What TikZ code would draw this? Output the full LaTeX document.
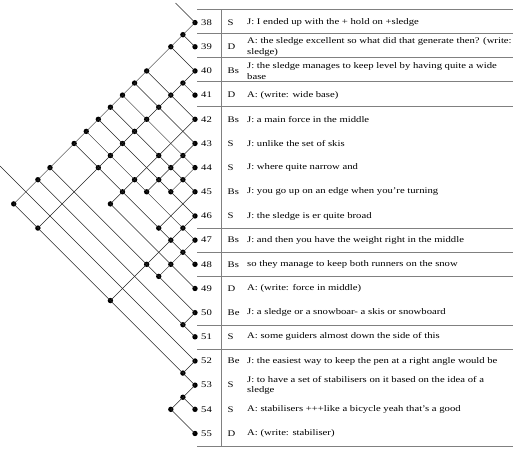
\documentclass[tikz,border=0pt]{standalone}
\usepackage{fontspec}
\setmainfont{Liberation Serif}[FakeStretch=1.24]
\begin{document}
\begin{tikzpicture}[x=1pt,y=-1pt,
  dot/.style={circle,fill=black,inner sep=0pt,minimum size=5.4pt},
  link/.style={draw=black!85,line width=0.5pt},
  rule/.style={draw=black!50,line width=0.5pt},
  lab/.style={anchor=west,inner sep=0pt,align=left,font=\fontsize{8.6}{10.5}\selectfont}]
\useasboundingbox (0,0) rectangle (513,451);
% moves
\foreach \i in {38,...,55} {
  \pgfmathsetmacro\yy{22.6+(\i-38)*24.17}
  \node[dot] (m\i) at (195,\yy) {};
}
% links
\foreach \i/\j in {38/39,38/40,38/42,38/43,38/44,38/45,38/46,38/47,38/48,38/50,38/51,38/53,
  40/41,40/42,40/43,40/44,40/45,40/46,40/47,40/48,40/53,
  42/45,42/47,42/48,42/49,43/44,43/45,43/46,43/47,44/45,44/46,45/48,
  46/47,46/48,46/50,46/53,47/48,47/49,47/50,50/51,52/53,53/54,53/55} {
  \pgfmathsetmacro\xx{195-(\j-\i)*12.085}
  \pgfmathsetmacro\yy{22.6+((\i+\j)/2-38)*24.17}
  \node[dot] (l\i x\j) at (\xx,\yy) {};
}
\coordinate (o38) at (175.5,3.1);
\coordinate (o52) at (0,166);
% link lines
\foreach \a/\b in {m38/o38,m38/l38x53,m39/l38x39,m40/l38x40,m40/l40x53,m41/l40x41,
  m42/l38x42,m42/l42x49,m43/l38x43,m43/l43x47,m44/l38x44,m44/l44x46,
  m45/l38x45,m45/l45x48,m46/l38x46,m46/l46x53,m47/l38x47,m47/l47x50,
  m48/l38x48,m49/l42x49,m50/l38x50,m50/l50x51,m51/l38x51,m52/o52,m52/l52x53,
  m53/l38x53,m53/l53x55,m54/l53x54,m55/l53x55} {
  \draw[link] (\a.center) -- (\b.center);
}
% table rules
\foreach \r in {9,33.3,57.3,81.7,106,228.3,252.3,276,325,349.3,446.7} {
  \draw[rule] (197,\r) -- (513,\r);
}
\draw[rule] (221.5,9) -- (221.5,446.7);
% labels
\foreach \i/\c in {38/S,39/D,40/Bs,41/D,42/Bs,43/S,44/S,45/Bs,46/S,47/Bs,48/Bs,49/D,50/Be,51/S,52/Be,53/S,54/S,55/D} {
  \node[lab] (n\i) at (201,{22.6+(\i-38)*24.17}) {\i};
  \node[lab] (c\i) at (227.5,{22.6+(\i-38)*24.17}) {\c};
}
\node[lab] (t38) at (247,{22.6+0*24.17}) {J: I ended up with the + hold on +sledge};
\node[lab] (t39) at (247,{22.6+1*24.17}) {A: the sledge excellent so what did that generate then? (write:\\sledge)};
\node[lab] (t40) at (247,{22.6+2*24.17}) {J: the sledge manages to keep level by having quite a wide\\base};
\node[lab] (t41) at (247,{22.6+3*24.17}) {A: (write: wide base)};
\node[lab] (t42) at (247,{22.6+4*24.17}) {J: a main force in the middle};
\node[lab] (t43) at (247,{22.6+5*24.17}) {J: unlike the set of skis};
\node[lab] (t44) at (247,{22.6+6*24.17}) {J: where quite narrow and};
\node[lab] (t45) at (247,{22.6+7*24.17}) {J: you go up on an edge when you're turning};
\node[lab] (t46) at (247,{22.6+8*24.17}) {J: the sledge is er quite broad};
\node[lab] (t47) at (247,{22.6+9*24.17}) {J: and then you have the weight right in the middle};
\node[lab] (t48) at (247,{22.6+10*24.17}) {so they manage to keep both runners on the snow};
\node[lab] (t49) at (247,{22.6+11*24.17}) {A: (write: force in middle)};
\node[lab] (t50) at (247,{22.6+12*24.17}) {J: a sledge or a snowboar- a skis or snowboard};
\node[lab] (t51) at (247,{22.6+13*24.17}) {A: some guiders almost down the side of this};
\node[lab] (t52) at (247,{22.6+14*24.17}) {J: the easiest way to keep the pen at a right angle would be};
\node[lab] (t53) at (247,{22.6+15*24.17}) {J: to have a set of stabilisers on it based on the idea of a\\sledge};
\node[lab] (t54) at (247,{22.6+16*24.17}) {A: stabilisers +++like a bicycle yeah that's a good};
\node[lab] (t55) at (247,{22.6+17*24.17}) {A: (write: stabiliser)};
\end{tikzpicture}
\end{document}
